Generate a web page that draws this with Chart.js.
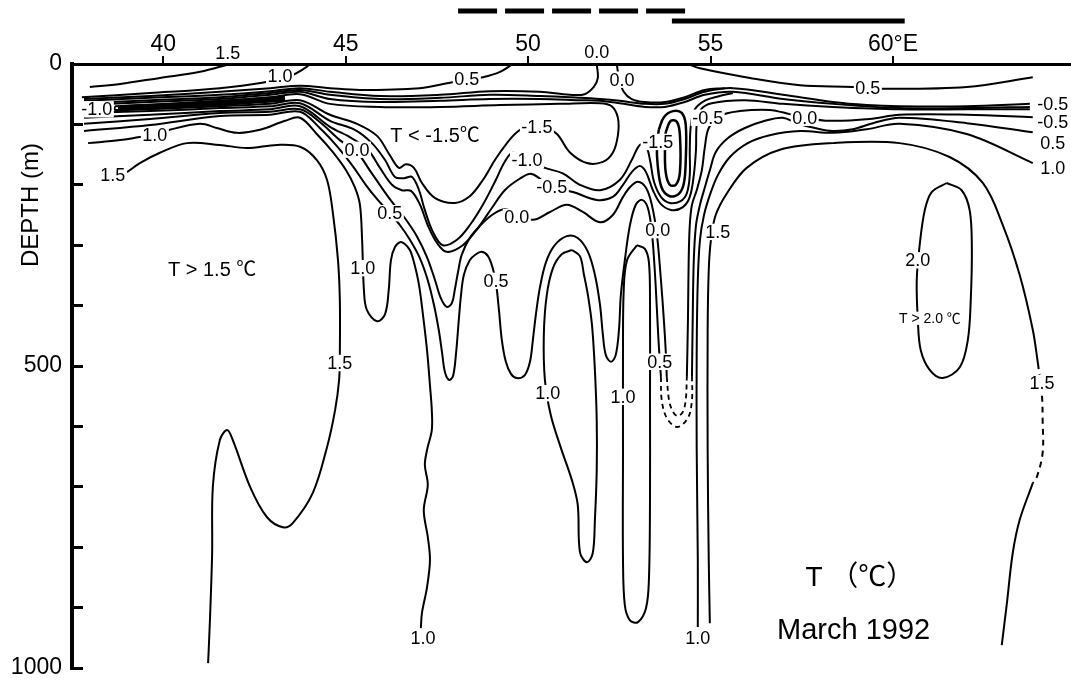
<!DOCTYPE html>
<html>
<head>
<meta charset="utf-8">
<title>Temperature section, March 1992</title>
<script src="https://cdn.jsdelivr.net/npm/chart.js@4.4.1/dist/chart.umd.min.js"></script>
<style>
  html, body { margin: 0; padding: 0; background: #fff; }
  #wrap { width: 1071px; height: 681px; }
</style>
</head>
<body>
<div id="wrap"><canvas id="section" width="1071" height="681"></canvas></div>
<script>
// axis ticks
const xTicks = [40, 45, 50, 55, 60];
const xTickLabels = ["40", "45", "50", "55", "60°E"];
const yTicks = [0, 100, 200, 300, 400, 500, 600, 700, 800, 900, 1000];
const yTickLabels = ["0", "", "", "", "", "500", "", "", "", "", "1000"];

// ship tracks above the section (lon start / end)
const dashedTrack = [48.08, 54.38];
const solidTrack = [53.94, 60.32];

// isotherms, [lon °E, depth m]
const c15TopLeft = [[37.99,38],[38.82,33],[39.91,23],[41.01,13],[41.83,0]];
const c10TopLeft = [[37.77,55],[39.64,48],[41.55,40],[42.71,31],[43.47,20],[43.88,7],[44.02,0]];
const c05Upper = [[37.83,58],[39.64,53],[41.55,46],[42.93,40],[43.75,36],[44.57,40],[45.39,43],[47.03,40],[47.86,31],[48.32,26],[48.76,22],[49.23,13],[49.58,0]];
const c00Upper = [[37.83,61],[39.64,56],[41.55,51],[42.93,45],[43.75,40],[44.57,46],[45.94,53],[47.58,51],[48.95,45],[50.32,46],[51.14,51],[51.55,50],[51.80,38],[51.91,23],[51.88,0]];
const cM05Upper = [[37.83,65],[39.64,60],[41.55,55],[42.93,48],[43.75,43],[44.57,51],[45.94,58],[47.58,56],[48.95,51],[50.32,53],[51.42,56],[51.97,58],[52.51,61],[53.20,66],[53.75,66],[54.29,58],[54.84,46],[55.61,40],[56.98,51],[58.35,63],[59.28,68],[60.18,70],[62.02,70],[63.75,66]];
const cM10Upper = [[37.83,68],[39.64,63],[41.55,58],[42.93,51],[43.75,46],[44.57,58],[45.94,63],[47.58,61],[48.95,58],[50.32,58],[51.42,60],[51.97,61],[52.51,65],[53.20,71],[53.75,71],[54.29,63],[54.84,51],[55.61,46],[56.98,58],[58.35,66],[60.18,73],[62.02,73],[63.75,71]];
const c00Surface = [[52.43,0],[52.49,23],[52.62,46],[52.84,58],[53.20,63],[53.75,63],[54.29,55],[54.84,43],[55.39,40]];
const c05TopRight = [[54.38,0],[54.71,7],[56.08,23],[57.45,35],[58.90,38],[59.72,41],[62.02,38],[63.83,22]];

const cM15Core = [[38.68,70],[41.01,63],[42.93,55],[43.75,50],[44.57,66],[45.94,71],[47.58,71],[49.23,68],[50.87,66],[51.97,65],[52.29,70],[52.46,89],[52.46,118],[52.32,147],[52.05,162],[51.61,164],[51.14,146],[50.79,116],[50.46,106],[49.97,104],[49.69,113],[49.42,131],[49.09,159],[48.76,192],[48.40,219],[47.99,230],[47.45,222],[47.09,197],[46.87,172],[46.65,166],[46.46,172],[46.21,151],[45.86,119],[45.31,99],[44.57,84],[43.75,60],[42.93,66],[41.01,71],[38.68,76],[38.68,70]];
const cM15CoreBand = [[38.76,73],[41.01,67],[43.34,57]];
const cM15Small = [[53.77,113],[53.91,94],[54.08,96],[54.16,118],[54.16,179],[54.05,200],[53.88,200],[53.77,179],[53.75,142],[53.77,113]];
const cM10Small = [[53.58,109],[53.72,88],[53.97,78],[54.21,81],[54.32,101],[54.32,159],[54.27,197],[54.13,215],[53.88,219],[53.66,205],[53.55,167],[53.53,134],[53.58,109]];

const cM10Lower = [[37.83,81],[39.64,78],[41.55,73],[42.93,70],[43.75,65],[44.57,94],[45.25,109],[45.72,131],[46.08,159],[46.35,187],[46.60,189],[46.82,187],[47.01,209],[47.17,242],[47.39,278],[47.66,300],[48.05,291],[48.40,267],[48.76,233],[49.09,195],[49.36,162],[49.58,147],[49.97,159],[50.46,172],[50.95,181],[51.42,200],[51.97,209],[52.51,192],[52.84,159],[53.06,134],[53.23,136],[53.34,159],[53.45,195],[53.64,220],[53.88,230],[54.18,227],[54.35,214],[54.43,184],[54.43,142],[54.46,101],[54.57,75],[54.87,60],[55.25,53],[55.61,48]];
const cM05Lower = [[37.83,89],[39.64,84],[41.55,78],[42.93,75],[43.75,70],[44.57,104],[45.17,123],[45.61,142],[45.94,172],[46.27,200],[46.54,209],[46.79,210],[47.03,232],[47.25,267],[47.50,296],[47.77,311],[48.21,300],[48.62,272],[49.01,238],[49.36,209],[49.77,190],[50.10,182],[50.65,204],[51.23,212],[51.88,225],[52.32,220],[52.60,200],[52.84,179],[53.06,169],[53.23,179],[53.42,209],[53.64,232],[53.94,242],[54.24,237],[54.43,220],[54.54,184],[54.60,142],[54.62,101],[54.73,76],[55.03,65],[55.94,60],[56.98,66],[58.35,71],[60.18,75],[62.02,75],[63.75,75]];

const c00Lower = [[37.83,99],[39.64,91],[41.55,81],[42.93,79],[43.75,75],[44.29,96],[44.84,126],[45.31,146],[45.66,176],[45.99,205],[46.29,230],[46.62,255],[46.95,285],[47.23,320],[47.45,358],[47.61,388],[47.77,402],[47.91,396],[47.99,374],[48.08,344],[48.18,316],[48.40,288],[48.68,268],[49.01,250],[49.36,240],[49.69,248],[50.13,258],[50.60,245],[51.06,233],[51.50,245],[51.97,262],[52.32,250],[52.60,220],[52.79,204],[53.01,195],[53.23,205],[53.39,233],[53.53,283],[53.64,358],[53.72,424],[53.77,474],[53.80,518]];
const c00Tongue = [[53.80,518],[53.86,556],[53.97,576],[54.10,583],[54.24,576],[54.32,556],[54.35,518]];
const c00Right = [[54.35,518],[54.38,424],[54.40,325],[54.43,267],[54.49,233],[54.62,209],[54.76,176],[54.84,139],[54.95,106],[55.25,86],[55.80,78],[56.62,76],[57.17,83],[57.58,89],[58.27,94],[59.36,91],[60.18,84],[62.02,84],[63.83,88]];

const c05Lower = [[37.83,111],[39.64,101],[41.55,86],[42.93,84],[43.75,79],[44.29,106],[44.76,136],[45.17,167],[45.55,200],[45.88,225],[46.21,247],[46.49,267],[46.76,291],[47.03,321],[47.25,358],[47.42,399],[47.55,440],[47.64,477],[47.72,510],[47.83,523],[47.94,517],[48.02,482],[48.10,424],[48.16,383],[48.24,349],[48.40,325],[48.57,315],[48.73,311],[48.90,318],[49.03,338],[49.12,363],[49.20,407],[49.28,457],[49.39,493],[49.53,513],[49.69,520],[49.91,515],[50.05,493],[50.13,457],[50.21,416],[50.32,371],[50.49,328],[50.73,300],[51.06,285],[51.36,288],[51.64,311],[51.83,349],[51.97,399],[52.05,449],[52.13,482],[52.27,493],[52.40,482],[52.49,440],[52.54,383],[52.65,325],[52.79,267],[52.95,233],[53.12,225],[53.28,238],[53.39,278],[53.47,341],[53.53,407],[53.58,465],[53.64,518]];
const c05Tongue = [[53.64,518],[53.66,556],[53.80,586],[54.08,601],[54.38,586],[54.49,556],[54.49,518]];
const c05Right = [[54.49,518],[54.51,424],[54.54,325],[54.60,267],[54.71,233],[54.84,205],[54.98,176],[55.14,146],[55.47,123],[55.94,106],[56.49,94],[56.98,89],[57.36,98],[57.86,106],[58.35,111],[58.90,108],[59.45,98],[60.18,89],[62.02,98],[63.83,113]];

const c10Lower = [[37.94,131],[38.82,126],[39.36,121],[39.77,118],[40.18,109],[41.01,99],[41.47,106],[42.02,114],[42.65,109],[43.34,94],[43.75,89],[44.24,118],[44.65,146],[45.01,176],[45.25,204],[45.39,233],[45.45,291],[45.50,374],[45.58,407],[45.86,426],[46.08,414],[46.18,374],[46.24,325],[46.35,303],[46.49,295],[46.62,298],[46.76,308],[46.87,328],[47.01,366],[47.12,416],[47.23,474],[47.31,532],[47.36,573],[47.36,606],[47.23,639],[47.17,664],[47.25,697],[47.14,739],[47.25,783],[47.31,821],[47.23,866],[47.09,909],[47.06,934]];
const c10LoopA = [[51.20,308],[51.42,318],[51.53,349],[51.64,383],[51.75,432],[51.83,507],[51.88,590],[51.88,672],[51.83,755],[51.77,810],[51.61,825],[51.42,808],[51.36,730],[51.20,689],[50.90,636],[50.62,581],[50.46,523],[50.43,449],[50.51,383],[50.68,338],[50.92,315],[51.20,308]];
const c10LoopB = [[52.98,300],[53.20,306],[53.31,328],[53.34,391],[53.34,556],[53.34,722],[53.31,854],[53.23,901],[53.01,924],[52.79,921],[52.65,896],[52.60,821],[52.60,639],[52.60,474],[52.62,374],[52.71,325],[52.98,300]];
const c10Right = [[54.65,932],[54.65,821],[54.62,639],[54.62,474],[54.65,358],[54.71,291],[54.82,250],[54.98,217],[55.20,184],[55.53,154],[56.02,131],[56.62,118],[57.45,111],[58.35,114],[59.28,108],[60.18,99],[62.02,116],[63.83,164]];

const c15Lower = [[39.01,179],[39.36,164],[39.91,147],[40.65,131],[41.55,134],[42.29,139],[43.12,134],[43.75,137],[44.21,159],[44.49,192],[44.65,247],[44.79,325],[44.84,391],[44.84,479],[44.82,523],[44.71,573],[44.49,634],[44.10,710],[43.55,760],[43.28,767],[42.84,750],[42.38,700],[41.91,623],[41.75,606],[41.55,623],[41.36,700],[41.34,810],[41.28,921],[41.23,992]];
const c15Right = [[54.98,926],[54.95,821],[54.92,639],[54.92,440],[54.95,341],[55.01,291],[55.14,250],[55.45,214],[55.99,172],[56.90,142],[58.35,131],[60.18,131],[61.55,154],[62.46,197],[63.01,267],[63.47,349],[63.83,440],[63.97,495]];
const c15RightGap = [[63.97,495],[64.08,548],[64.10,590],[64.10,644],[63.94,684],[63.83,694]];
const c15RightDeep = [[63.83,694],[63.47,755],[63.28,810],[63.12,893],[62.98,962]];
const c20Loop = [[61.47,197],[61.88,209],[62.10,242],[62.16,303],[62.13,391],[62.05,457],[61.83,502],[61.36,520],[61.01,507],[60.76,474],[60.68,424],[60.65,358],[60.73,300],[60.87,242],[61.06,212],[61.47,197]];

// contour labels: text, lon, depth
const contourLabels = [
  ["1.5", 41.77, -18], ["1.0", 43.20, 20], ["0.5", 48.32, 25], ["0.0", 51.88, -20],
  ["0.0", 52.57, 26], ["0.5", 59.31, 40], ["-0.5", 64.38, 66], ["-0.5", 64.38, 96],
  ["0.5", 64.38, 131], ["1.0", 64.38, 172], ["-1.0", 38.18, 75], ["1.0", 39.77, 118],
  ["1.5", 38.62, 184], ["0.0", 45.31, 142], ["-1.5", 50.24, 104], ["-1.0", 49.97, 159],
  ["-0.5", 50.65, 204], ["0.0", 49.69, 253], ["-1.5", 53.55, 129], ["-0.5", 54.92, 89],
  ["0.0", 57.58, 89], ["0.5", 46.21, 247], ["1.0", 45.47, 338], ["0.5", 49.12, 359],
  ["0.0", 53.55, 275], ["1.5", 55.20, 278], ["2.0", 60.68, 325], ["1.5", 44.84, 495],
  ["0.5", 53.61, 493], ["1.0", 50.54, 545], ["1.0", 52.60, 551], ["1.5", 64.08, 528],
  ["1.0", 47.12, 951], ["1.0", 54.65, 951]
];
const regionNotes = [
  ["T < -1.5℃", 47.45, 118], ["T > 1.5 ℃", 41.34, 341], ["T > 2.0 ℃", 61.01, 421],
  ["T （℃）", 59.09, 850], ["March 1992", 58.92, 937]
];

const FONT = '"Liberation Sans", Arial, "Noto Sans CJK JP", sans-serif';
const noteSizes = [20, 20, 14, 28, 29];

function iso(points, extra) {
  return Object.assign({
    data: points.map(([x, y]) => ({ x, y })),
    showLine: true,
    borderColor: "#000",
    borderWidth: 2,
    pointRadius: 0,
    tension: 0.35,
    fill: false
  }, extra || {});
}

const dashed = { borderDash: [5, 4], borderWidth: 1.8 };

const datasets = [
  iso(c15TopLeft), iso(c10TopLeft), iso(c05Upper), iso(c00Upper),
  iso(cM05Upper), iso(cM10Upper), iso(c00Surface), iso(c05TopRight),
  iso(cM15Core), iso(cM15CoreBand, { borderWidth: 6 }),
  iso(cM15Small, { borderWidth: 2.5 }), iso(cM10Small, { borderWidth: 2.5 }),
  iso(cM10Lower), iso(cM05Lower),
  iso(c00Lower), iso(c00Tongue, dashed), iso(c00Right),
  iso(c05Lower), iso(c05Tongue, dashed), iso(c05Right),
  iso(c10Lower), iso(c10LoopA), iso(c10LoopB), iso(c10Right),
  iso(c15Lower), iso(c15Right), iso(c15RightGap, { borderDash: [6, 5] }), iso(c15RightDeep),
  iso(c20Loop)
];

function boxedText(ctx, text, px, py, size) {
  ctx.font = size + "px " + FONT;
  const w = ctx.measureText(text).width;
  const h = size * 0.8;
  ctx.fillStyle = "#fff";
  ctx.fillRect(px - w / 2 - 1.5, py - h / 2 - 1, w + 3, h + 2);
  ctx.fillStyle = "#000";
  ctx.textAlign = "center";
  ctx.textBaseline = "middle";
  ctx.fillText(text, px, py + 1);
}

const sectionDecor = {
  id: "sectionDecor",
  afterDatasetsDraw(chart) {
    const { ctx, scales: { x, y } } = chart;
    ctx.save();
    contourLabels.forEach(([t, lon, d]) => boxedText(ctx, t, x.getPixelForValue(lon), y.getPixelForValue(d), 18));
    regionNotes.forEach(([t, lon, d], i) => boxedText(ctx, t, x.getPixelForValue(lon), y.getPixelForValue(d), noteSizes[i]));

    // ship tracks
    ctx.strokeStyle = "#000";
    ctx.lineWidth = 5;
    ctx.setLineDash([39, 8]);
    ctx.beginPath();
    ctx.moveTo(x.getPixelForValue(dashedTrack[0]), 11);
    ctx.lineTo(x.getPixelForValue(dashedTrack[1]), 11);
    ctx.stroke();
    ctx.setLineDash([]);
    ctx.beginPath();
    ctx.moveTo(x.getPixelForValue(solidTrack[0]), 21);
    ctx.lineTo(x.getPixelForValue(solidTrack[1]), 21);
    ctx.stroke();

    // depth axis title
    ctx.translate(31, 205);
    ctx.rotate(-Math.PI / 2);
    ctx.font = "24px " + FONT;
    ctx.fillStyle = "#000";
    ctx.textAlign = "center";
    ctx.textBaseline = "middle";
    ctx.fillText("DEPTH (m)", 0, 0);
    ctx.restore();
  }
};

new Chart(document.getElementById("section"), {
  type: "scatter",
  data: { datasets },
  options: {
    responsive: false,
    animation: false,
    devicePixelRatio: 1,
    layout: { padding: { top: 0, left: 0, right: 1, bottom: 13 } },
    plugins: { legend: { display: false }, tooltip: { enabled: false } },
    scales: {
      x: {
        type: "linear", position: "top", min: 37.5, max: 64.85,
        afterFit: (s) => { s.height = 64; s.paddingLeft = 0; s.paddingRight = 0; },
        afterBuildTicks: (s) => { s.ticks = xTicks.map((v) => ({ value: v })); },
        ticks: {
          autoSkip: false, maxRotation: 0, padding: -2, color: "#000",
          font: { family: FONT, size: 23 },
          callback: (v, i) => xTickLabels[i]
        },
        grid: { drawOnChartArea: false, drawTicks: true, tickLength: 8, tickWidth: 2, tickColor: "#000", lineWidth: 2, color: "#000" },
        border: { display: true, width: 3, color: "#000" }
      },
      y: {
        type: "linear", position: "left", reverse: true, min: 0, max: 1000,
        // labels sit outside, the tick marks point inward
        afterFit: (s) => { s.width = 72; s.paddingTop = 0; s.paddingBottom = 0; },
        afterBuildTicks: (s) => { s.ticks = yTicks.map((v) => ({ value: v })); },
        ticks: {
          autoSkip: false, padding: 21, color: "#000",
          font: { family: FONT, size: 23 },
          callback: (v, i) => yTickLabels[i]
        },
        grid: { drawOnChartArea: false, drawTicks: true, tickLength: -11, tickWidth: 3, tickColor: "#000", lineWidth: 3, color: "#000" },
        border: { display: true, width: 4, color: "#000" }
      }
    }
  },
  plugins: [sectionDecor]
});
</script>
</body>
</html>
